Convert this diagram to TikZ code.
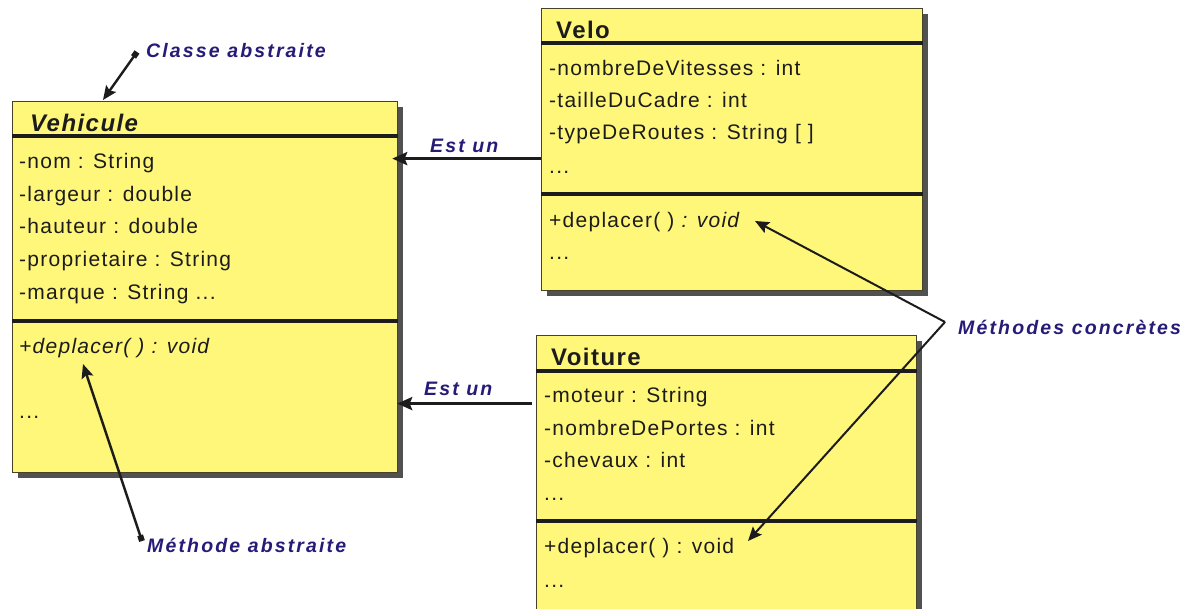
\documentclass[tikz,border=0pt]{standalone}
\usepackage{fontspec}
\setmainfont{Liberation Sans}
\newfontfamily\umlfont[LetterSpace=6]{Liberation Sans}
\newfontfamily\lblfont[LetterSpace=11]{Liberation Sans}
\usetikzlibrary{arrows.meta,shadows,calc}
\definecolor{umlyellow}{RGB}{255,247,122}
\definecolor{lblblue}{RGB}{38,28,120}
\definecolor{boxedge}{RGB}{70,66,40}
\definecolor{ink}{RGB}{28,28,28}
\tikzset{
  umlbox/.style={draw=boxedge, line width=1.2pt, fill=umlyellow, anchor=north west, inner sep=0pt,
    drop shadow={shadow xshift=5pt, shadow yshift=-5pt, fill=black!85, opacity=0.8}},
  sepline/.style={draw=ink, line width=3.2pt},
  umltitle/.style={anchor=base west, inner sep=0pt, text=ink, font=\umlfont\fontsize{24}{28}\selectfont\bfseries},
  member/.style={anchor=base west, inner sep=0pt, text=ink, font=\umlfont\fontsize{21}{25}\selectfont},
  note/.style={anchor=base west, inner sep=0pt, text=lblblue, font=\lblfont\fontsize{19.5}{23}\selectfont\bfseries\itshape},
  isa/.style={draw=ink, line width=3pt, -{Stealth[length=15pt,width=13pt,inset=2.5pt]}},
  pointer/.style={draw=ink, line width=2.4pt, {Square[length=6pt,width=6pt]}-{Stealth[length=14pt,width=12pt,inset=2.5pt]}},
  concrete/.style={draw=ink, line width=2pt, -{Stealth[length=14pt,width=12pt,inset=2.5pt]}}
}
\begin{document}
\begin{tikzpicture}[x=1pt,y=-1pt]
\useasboundingbox (0,0) rectangle (1194,608);
\clip (0,0) rectangle (1194,608);
\fill[white] (0,0) rectangle (1194,608);

% ---------- Vehicule ----------
\node[umlbox, minimum width=385pt, minimum height=371pt] (veh) at (12,101) {};
\draw[sepline] ([yshift=-35pt]veh.north west) -- ([yshift=-35pt]veh.north east);
\draw[sepline] ([yshift=-220pt]veh.north west) -- ([yshift=-220pt]veh.north east);
\node[umltitle, font=\umlfont\fontsize{24}{28}\selectfont\bfseries\itshape] (vehT) at (30,131) {Vehicule};
\node[member] (vehA1) at (19,168) {-nom : String};
\node[member] (vehA2) at (19,201) {-largeur : double};
\node[member] (vehA3) at (19,233) {-hauteur : double};
\node[member] (vehA4) at (19,266) {-proprietaire : String};
\node[member] (vehA5) at (19,299) {-marque : String ...};
\node[member, font=\umlfont\fontsize{21}{25}\selectfont\itshape] (vehM1) at (19,353) {+deplacer( ) : void};
\node[member] (vehM2) at (19,418) {...};

% ---------- Velo ----------
\node[umlbox, minimum width=381pt, minimum height=282pt] (velo) at (541,8) {};
\draw[sepline] ([yshift=-35pt]velo.north west) -- ([yshift=-35pt]velo.north east);
\draw[sepline] ([yshift=-186pt]velo.north west) -- ([yshift=-186pt]velo.north east);
\node[umltitle] (veloT) at (556,38) {Velo};
\node[member] (veloA1) at (549,75) {-nombreDeVitesses : int};
\node[member] (veloA2) at (549,107) {-tailleDuCadre : int};
\node[member] (veloA3) at (549,139) {-typeDeRoutes : String [ ]};
\node[member] (veloA4) at (549,173) {...};
\node[member] (veloM1) at (549,227) {+deplacer( ) {\itshape : void}};
\node[member] (veloM2) at (549,259) {...};

% ---------- Voiture ----------
\node[umlbox, minimum width=380pt, minimum height=290pt] (voit) at (536,335) {};
\draw[sepline] ([yshift=-36pt]voit.north west) -- ([yshift=-36pt]voit.north east);
\draw[sepline] ([yshift=-186pt]voit.north west) -- ([yshift=-186pt]voit.north east);
\node[umltitle] (voitT) at (551,365) {Voiture};
\node[member] (voitA1) at (544,402) {-moteur : String};
\node[member] (voitA2) at (544,435) {-nombreDePortes : int};
\node[member] (voitA3) at (544,467) {-chevaux : int};
\node[member] (voitA4) at (544,500) {...};
\node[member] (voitM1) at (544,553) {+deplacer( ) : void};
\node[member] (voitM2) at (544,587) {...};

% ---------- Est un ----------
\coordinate (e1) at ([yshift=-9pt]velo.west);
\draw[isa, shorten >=-6pt] (e1) -- (e1 -| veh.east);
\node[note] (estun1) at (430,152) {Est un};
\coordinate (e2) at ([yshift=77pt]voit.west);
\draw[isa, shorten <=4pt, shorten >=-1pt] (e2) -- (e2 -| veh.east);
\node[note] (estun2) at (424,395) {Est un};

% ---------- notes ----------
\node[note] (classe) at (146,57) {Classe abstraite};
\coordinate (c0) at (137,52);
\coordinate (c1) at (103,100);
\draw[pointer] (c0) -- (c1);

\node[note] (mabs) at (147,552) {Méthode abstraite};
\coordinate (m0) at (142,541);
\coordinate (m1) at (83,364);
\draw[pointer] (m0) -- (m1);

\node[note] (mconc) at (958,334) {Méthodes concrètes};
\coordinate (k0) at (945,322);
\coordinate (k1) at (755,221);
\coordinate (k2) at (748,541);
\draw[concrete] (k0) -- (k1);
\draw[concrete] (k0) -- (k2);
\end{tikzpicture}
\end{document}
